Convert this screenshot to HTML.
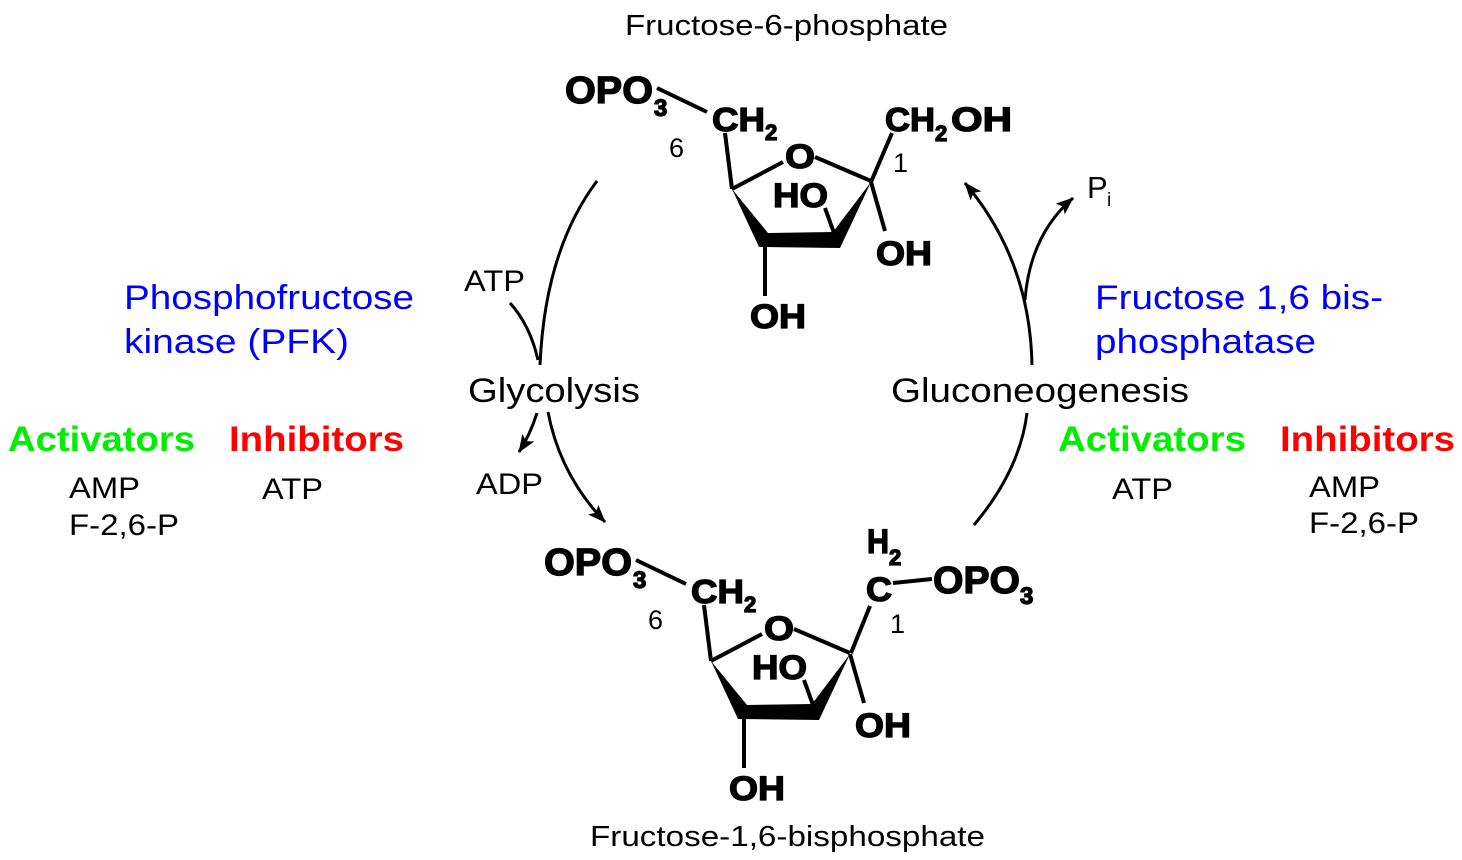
<!DOCTYPE html>
<html><head><meta charset="utf-8"><style>
html,body{margin:0;padding:0;background:#fff;}
svg{display:block;}
text{font-family:"Liberation Sans",Arial,sans-serif;}
.b{font-weight:bold;}
.m{font-weight:bold;stroke:#000;stroke-width:1.3;}
</style></head><body>
<svg width="1462" height="860" viewBox="0 0 1462 860" xmlns="http://www.w3.org/2000/svg">
<defs>
<marker id="ah" viewBox="0 0 18 14" refX="17" refY="7" markerWidth="18" markerHeight="14" markerUnits="userSpaceOnUse" orient="auto">
<path d="M0,0 L18,7 L0,14 L4,7 Z" fill="#000"/>
</marker>
</defs>

<!-- titles -->
<text x="625" y="35" font-size="29" textLength="323" lengthAdjust="spacingAndGlyphs">Fructose-6-phosphate</text>
<text x="590" y="846" font-size="29" textLength="395" lengthAdjust="spacingAndGlyphs">Fructose-1,6-bisphosphate</text>

<!-- left labels -->
<text x="124" y="309" font-size="34" fill="#0000ff" textLength="290" lengthAdjust="spacingAndGlyphs">Phosphofructose</text>
<text x="124" y="353" font-size="34" fill="#0000ff" textLength="225" lengthAdjust="spacingAndGlyphs">kinase (PFK)</text>
<text x="8" y="451" font-size="35" class="b" fill="#00ee00" textLength="187" lengthAdjust="spacingAndGlyphs">Activators</text>
<text x="229" y="451" font-size="35" class="b" fill="#ff0000" textLength="175" lengthAdjust="spacingAndGlyphs">Inhibitors</text>
<text x="69" y="498" font-size="30" textLength="71" lengthAdjust="spacingAndGlyphs">AMP</text>
<text x="69" y="535" font-size="30" textLength="110" lengthAdjust="spacingAndGlyphs">F-2,6-P</text>
<text x="262" y="499" font-size="30" textLength="61" lengthAdjust="spacingAndGlyphs">ATP</text>

<!-- right labels -->
<text x="1095" y="309" font-size="34" fill="#0000ff" textLength="288" lengthAdjust="spacingAndGlyphs">Fructose 1,6 bis-</text>
<text x="1095" y="353" font-size="34" fill="#0000ff" textLength="221" lengthAdjust="spacingAndGlyphs">phosphatase</text>
<text x="1058" y="451" font-size="35" class="b" fill="#00ee00" textLength="188" lengthAdjust="spacingAndGlyphs">Activators</text>
<text x="1280" y="451" font-size="35" class="b" fill="#ff0000" textLength="175" lengthAdjust="spacingAndGlyphs">Inhibitors</text>
<text x="1112" y="499" font-size="30" textLength="61" lengthAdjust="spacingAndGlyphs">ATP</text>
<text x="1309" y="497" font-size="30" textLength="71" lengthAdjust="spacingAndGlyphs">AMP</text>
<text x="1309" y="533" font-size="30" textLength="110" lengthAdjust="spacingAndGlyphs">F-2,6-P</text>

<!-- pathway labels -->
<text x="468" y="402" font-size="34" textLength="172" lengthAdjust="spacingAndGlyphs">Glycolysis</text>
<text x="891" y="402" font-size="34" textLength="298" lengthAdjust="spacingAndGlyphs">Gluconeogenesis</text>
<text x="464" y="291" font-size="30" textLength="61" lengthAdjust="spacingAndGlyphs">ATP</text>
<text x="476" y="494" font-size="30" textLength="67" lengthAdjust="spacingAndGlyphs">ADP</text>
<text x="1087" y="198" font-size="31">P</text>
<text x="1107" y="206" font-size="19">i</text>

<!-- arrows -->
<g fill="none" stroke="#000" stroke-width="3">
<path d="M597,181 Q545,250 540,365"/>
<path d="M510,303 Q530,325 538,360"/>
<path d="M548,412 Q560,475 605,522" marker-end="url(#ah)"/>
<path d="M537,413 Q530,435 519,452" marker-end="url(#ah)"/>
<path d="M974,525 Q1020,470 1027,413"/>
<path d="M1032,365 Q1030,260 965,183" marker-end="url(#ah)"/>
<path d="M1025,300 Q1030,235 1073,198" marker-end="url(#ah)"/>
</g>

<!-- top molecule -->
<g id="mol">
<g stroke="#000" stroke-width="4" fill="none" stroke-linecap="butt">
<line x1="725" y1="133" x2="732" y2="189"/>
<line x1="732" y1="189" x2="783" y2="162"/>
<line x1="815" y1="157" x2="871" y2="181"/>
<line x1="825" y1="208" x2="834" y2="233"/>
<line x1="765" y1="245" x2="765" y2="296"/>
<line x1="871" y1="182" x2="885" y2="231"/>
</g>
<polygon points="732,189 768,233 833,232 871,182 840,248 759,247" fill="#000"/>
<text x="712" y="131" font-size="33" class="m" textLength="53" lengthAdjust="spacingAndGlyphs">CH</text>
<text x="765" y="140" font-size="22" class="m">2</text>
<text x="785" y="168" font-size="34" class="m" textLength="30" lengthAdjust="spacingAndGlyphs">O</text>
<text x="773" y="207" font-size="34" class="m" textLength="55" lengthAdjust="spacingAndGlyphs">HO</text>
<text x="750" y="328" font-size="34" class="m" textLength="56" lengthAdjust="spacingAndGlyphs">OH</text>
<text x="876" y="265" font-size="34" class="m" textLength="56" lengthAdjust="spacingAndGlyphs">OH</text>
<text x="669" y="157" font-size="27">6</text>
<text x="565" y="103" font-size="38" class="m" textLength="88" lengthAdjust="spacingAndGlyphs">OPO</text>
<text x="654" y="116" font-size="24" class="m">3</text>
<line x1="657" y1="88" x2="707" y2="112" stroke="#000" stroke-width="4"/>
</g>
<g stroke="#000" stroke-width="4">
<line x1="871" y1="182" x2="892" y2="133"/>
</g>
<text x="885" y="131" font-size="33" class="m" textLength="50" lengthAdjust="spacingAndGlyphs">CH</text>
<text x="935" y="141" font-size="22" class="m">2</text>
<text x="951" y="131" font-size="34" class="m" textLength="61" lengthAdjust="spacingAndGlyphs">OH</text>
<text x="893" y="172" font-size="27">1</text>

<!-- bottom molecule -->
<use href="#mol" transform="translate(-21,472)"/>
<g stroke="#000" stroke-width="4">
<line x1="851" y1="653" x2="870" y2="606"/>
<line x1="893" y1="583" x2="932" y2="579"/>
</g>
<text x="866" y="601" font-size="34" class="m" textLength="26" lengthAdjust="spacingAndGlyphs">C</text>
<text x="867" y="553" font-size="34" class="m" textLength="22" lengthAdjust="spacingAndGlyphs">H</text>
<text x="889" y="565" font-size="22" class="m">2</text>
<text x="933" y="593" font-size="38" class="m" textLength="87" lengthAdjust="spacingAndGlyphs">OPO</text>
<text x="1020" y="604" font-size="24" class="m">3</text>
<text x="890" y="633" font-size="27">1</text>
</svg>
</body></html>
